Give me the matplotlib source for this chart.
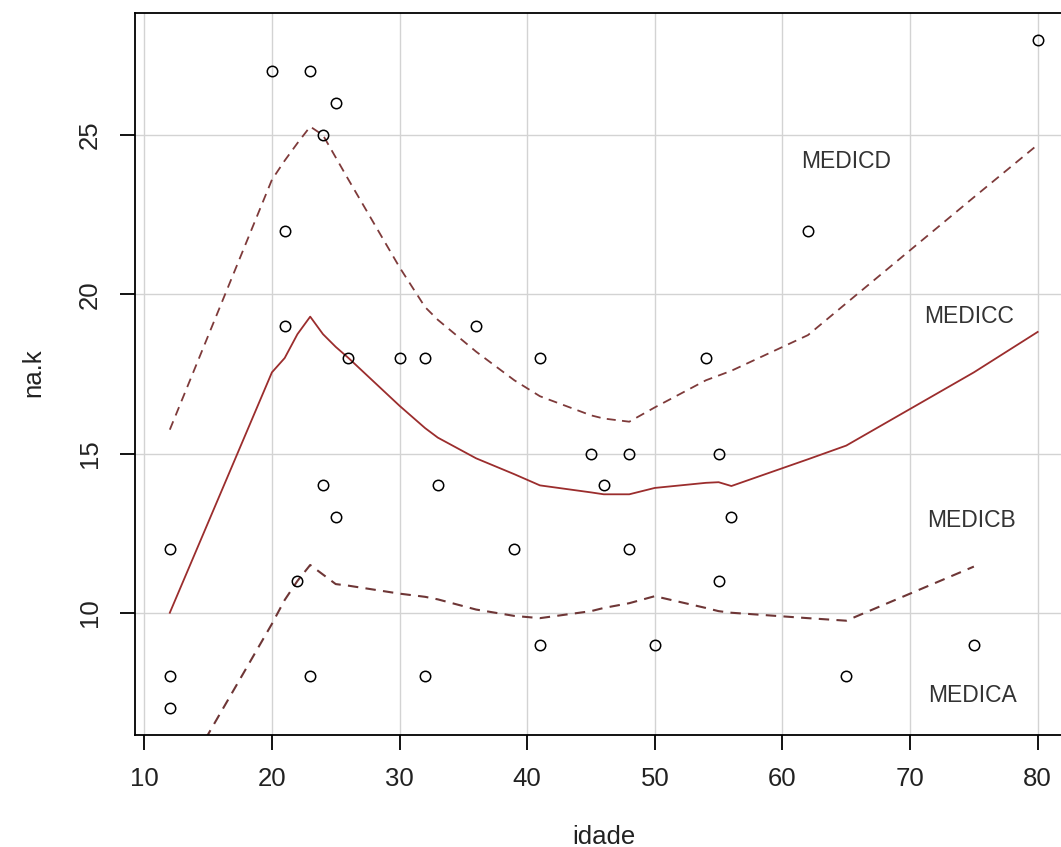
import matplotlib
matplotlib.use("Agg")
import matplotlib.pyplot as plt

# scatter data (idade vs na.k)
idade = [12, 12, 12, 20, 21, 21, 22, 23, 23, 24, 24, 25, 25, 26, 30, 32, 32, 33,
         36, 39, 41, 41, 45, 46, 48, 48, 50, 54, 55, 55, 56, 62, 65, 75, 80]
nak = [12, 8, 7, 27, 22, 19, 11, 27, 8, 25, 14, 26, 13, 18, 18, 18, 8, 14,
       19, 12, 18, 9, 15, 14, 15, 12, 9, 18, 15, 11, 13, 22, 8, 9, 28]

# fitted curves
x_fit = [12, 20, 21, 22, 23, 24, 25, 26, 30, 32, 33, 36, 39, 41, 45, 46, 48, 50,
         54, 55, 56, 62, 65, 75, 80]
y_mid = [10.0, 17.55, 18.0, 18.75, 19.3, 18.75, 18.35, 18.0, 16.5, 15.8, 15.5,
         14.85, 14.35, 14.0, 13.78, 13.72, 13.72, 13.92, 14.08, 14.1, 13.98,
         14.82, 15.25, 17.55, 18.82]
y_up = [15.75, 23.6, 24.2, 24.75, 25.27, 25.0, 24.3, 23.6, 20.85, 19.6, 19.2,
        18.2, 17.3, 16.8, 16.2, 16.1, 16.0, 16.45, 17.3, 17.45, 17.6, 18.72,
        19.72, 23.05, 24.7]
x_low = x_fit[:-1]
y_low = [4.1, 9.65, 10.4, 11.0, 11.5, 11.2, 10.9, 10.85, 10.6, 10.5, 10.42,
         10.1, 9.9, 9.83, 10.05, 10.15, 10.3, 10.52, 10.15, 10.05, 10.0, 9.83,
         9.75, 11.45]

labels = ["MEDICD", "MEDICC", "MEDICB", "MEDICA"]
label_x = [65.0, 74.6, 74.8, 74.9]
label_y = [24.17, 19.3, 12.9, 7.4]

xticks = [10, 20, 30, 40, 50, 60, 70, 80]
yticks = [10, 15, 20, 25]

plt.rcParams['font.family'] = ['Liberation Sans', 'DejaVu Sans']

W, H = 1061, 847
fig = plt.figure(figsize=(W / 100, H / 100), dpi=100)
ax = fig.add_axes([135.1 / W, 1 - 735 / H, (1072.4 - 135.1) / W, (735 - 12.9) / H])

ax.set_xlim(9.28, 82.72)
ax.set_ylim(6.16, 28.84)
ax.set_xticks(xticks)
ax.set_yticks(yticks)
ax.grid(True, color='#d3d3d3', linewidth=1.0)
ax.set_axisbelow(True)

ax.plot(x_fit, y_mid, color='#9b2d2d', linewidth=1.3)
ax.plot(x_fit, y_up, color='#7e3a3a', linewidth=1.3, linestyle=(0, (5, 3.5)))
ax.plot(x_low, y_low, color='#6e3636', linewidth=1.5, linestyle=(0, (5, 3.5)))

ax.plot(idade, nak, linestyle='none', marker='o', markersize=7.5,
        markerfacecolor='none', markeredgecolor='black', markeredgewidth=1.1)

for s, x, y in zip(labels, label_x, label_y):
    ax.text(x, y, s, ha='center', va='center', fontsize=16.5, color='#333333')

for sp in ax.spines.values():
    sp.set_linewidth(1.3)
    sp.set_color('black')

ax.tick_params(axis='both', direction='out', length=10.8, width=1.3,
               labelsize=18.5, colors='black', labelcolor='#222222')
ax.tick_params(axis='x', pad=12)
ax.tick_params(axis='y', pad=13)
for lab in ax.get_yticklabels():
    lab.set_rotation(90)
    lab.set_va('center')

fig.text(603.5 / W, 1 - 837 / H, 'idade', ha='center', va='center',
         fontsize=18.5, color='#222222')
fig.text(33 / W, 1 - 373 / H, 'na.k', ha='center', va='center',
         fontsize=18.5, color='#222222', rotation=90)

fig.savefig('out.png', dpi=100)
